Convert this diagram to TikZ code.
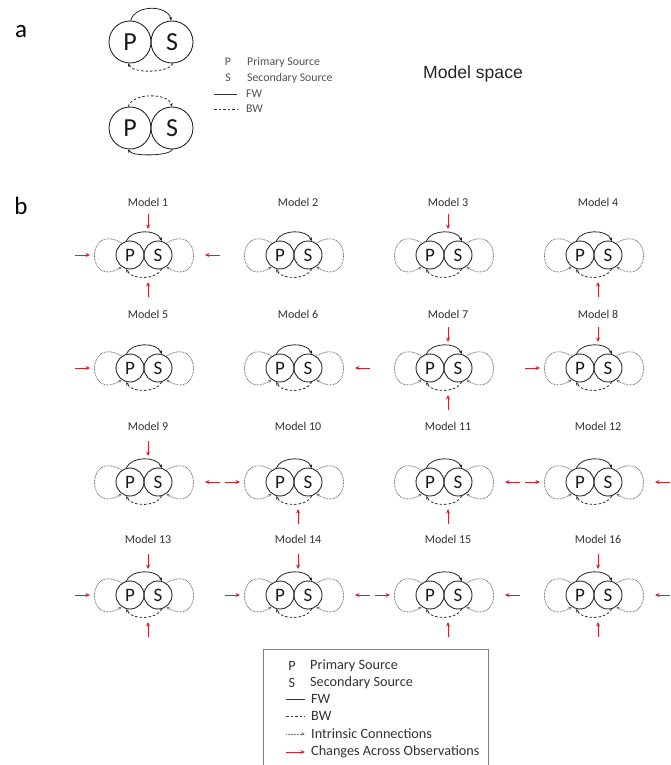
\documentclass[tikz,border=0pt]{standalone}
\usepackage{fontspec}
\setmainfont{Carlito}
\newfontfamily\arialf{Liberation Sans}
\usetikzlibrary{arrows.meta}
\definecolor{redarr}{RGB}{205,35,45}
\definecolor{txt}{RGB}{50,50,50}
\definecolor{lgtxt}{RGB}{80,80,80}
\tikzset{
  src/.style={circle, draw=black!85, line width=0.9pt, minimum size=28pt, inner sep=0pt,
    font=\fontsize{19}{19}\selectfont, text=black!90},
  bigsrc/.style={src, minimum size=42pt, font=\fontsize{26}{26}\selectfont},
  fwarc/.style={draw=black!85, line width=0.8pt, -{Stealth[length=3.5pt,width=3pt]}},
  bwarc/.style={fwarc, dash pattern=on 2.5pt off 2pt},
  loopc/.style={draw=black!55, dash pattern=on 0.8pt off 0.7pt, line width=0.8pt,
    -{Stealth[length=3.5pt,width=3pt]}},
  chg/.style={draw=redarr, line width=1pt, -{Stealth[length=4.5pt,width=4pt]}},
  mlabel/.style={font=\fontsize{12}{12}\selectfont, text=txt, inner sep=0pt},
  legtxt/.style={font=\fontsize{14.2}{15}\selectfont, text=txt, anchor=west, inner sep=0pt},
  legsym/.style={font=\fontsize{14.2}{15}\selectfont, text=txt, inner sep=0pt},
  atxt/.style={font=\fontsize{11.8}{12}\selectfont, text=lgtxt, anchor=west, inner sep=0pt},
  asym/.style={font=\fontsize{11.8}{12}\selectfont, text=lgtxt, inner sep=0pt},
  legline/.style={draw=black!80, line width=0.8pt},
  panel/.style={font=\fontsize{25}{25}\selectfont, text=black, inner sep=0pt},
}
% #1 number, #2 cx, #3 cy, #4 label y, #5 top, #6 bottom, #7 left, #8 right
\newcommand\mcell[8]{%
  \node[src] (P#1) at (#2-14,-#3) {P};
  \node[src] (S#1) at (#2+14,-#3) {S};
  \node[mlabel] (L#1) at (#2+4,-#4) {Model #1};
  \draw[fwarc] (P#1.105) .. controls +(5,12) and +(-5,12) .. (S#1.75);
  \draw[bwarc] (S#1.-75) .. controls +(-5,-11) and +(5,-11) .. (P#1.-105);
  \draw[loopc] (P#1.125) .. controls +(-36,22) and +(-36,-22) .. (P#1.235);
  \draw[loopc] (S#1.55) .. controls +(36,22) and +(36,-22) .. (S#1.-55);
  \ifnum#5=1
    \coordinate (Ta#1) at (#2+4,-#3+41); \coordinate (Tb#1) at (#2+4,-#3+26);
    \draw[chg] (Ta#1) -- (Tb#1);
  \fi
  \ifnum#6=1
    \coordinate (Ba#1) at (#2+4,-#3-42); \coordinate (Bb#1) at (#2+4,-#3-27);
    \draw[chg] (Ba#1) -- (Bb#1);
  \fi
  \ifnum#7=1
    \coordinate (La#1) at (#2-69,-#3); \coordinate (Lb#1) at (#2-54,-#3);
    \draw[chg] (La#1) -- (Lb#1);
  \fi
  \ifnum#8=1
    \coordinate (Ra#1) at (#2+76,-#3); \coordinate (Rb#1) at (#2+61,-#3);
    \draw[chg] (Ra#1) -- (Rb#1);
  \fi
}
\begin{document}
\begin{tikzpicture}[x=1pt,y=1pt]
\useasboundingbox (0,0) rectangle (670,-765);
% panel labels
\node[panel] (pa) at (21,-32) {a};
\node[panel] (pb) at (21,-206) {b};
\node[font=\arialf\fontsize{17.6}{18}\selectfont, text=black!85, inner sep=0pt] (ms) at (473,-74) {Model space};
% panel a diagrams
\node[bigsrc] (PA) at (130,-42) {P};
\node[bigsrc] (SA) at (172,-42) {S};
\draw[fwarc] (PA.88) .. controls +(4,16) and +(-4,16) .. (SA.92);
\draw[bwarc] (SA.-88) .. controls +(-4,-10) and +(4,-10) .. (PA.-95);
\node[bigsrc] (PB) at (130,-128) {P};
\node[bigsrc] (SB) at (172,-128) {S};
\draw[bwarc] (PB.95) .. controls +(4,14) and +(-4,14) .. (SB.90);
\draw[fwarc] (SB.-88) .. controls +(-4,-7) and +(4,-7) .. (PB.-95);
% panel a legend
\node[asym] (aP) at (228,-62) {P};
\node[atxt] (aPt) at (247,-62) {Primary Source};
\node[asym] (aS) at (228,-78) {S};
\node[atxt] (aSt) at (247,-78) {Secondary Source};
\coordinate (aF1) at (214,-94); \coordinate (aF2) at (237,-94);
\draw[legline] (aF1) -- (aF2);
\node[atxt] (aFt) at (246,-94) {FW};
\coordinate (aB1) at (214,-109); \coordinate (aB2) at (237,-109);
\draw[legline, dash pattern=on 2.5pt off 2pt] (aB1) -- (aB2);
\node[atxt] (aBt) at (246,-109) {BW};
% models
\mcell{1}{144}{255}{202}{1}{1}{1}{1}
\mcell{2}{294}{255}{202}{0}{0}{0}{0}
\mcell{3}{444}{255}{202}{1}{0}{0}{0}
\mcell{4}{594}{255}{202}{0}{1}{0}{0}
\mcell{5}{144}{368}{314}{0}{0}{1}{0}
\mcell{6}{294}{368}{314}{0}{0}{0}{1}
\mcell{7}{444}{368}{314}{1}{1}{0}{0}
\mcell{8}{594}{368}{314}{1}{0}{1}{0}
\mcell{9}{144}{482}{426}{1}{0}{0}{1}
\mcell{10}{294}{482}{426}{0}{1}{1}{0}
\mcell{11}{444}{482}{426}{0}{1}{0}{1}
\mcell{12}{594}{482}{426}{0}{0}{1}{1}
\mcell{13}{144}{595}{539}{1}{1}{1}{0}
\mcell{14}{294}{595}{539}{1}{0}{1}{1}
\mcell{15}{444}{595}{539}{0}{1}{1}{1}
\mcell{16}{594}{595}{539}{1}{1}{0}{1}
% legend b
\coordinate (bx1) at (263,-765); \coordinate (bx2) at (263,-649);
\coordinate (bx3) at (488,-649); \coordinate (bx4) at (488,-765);
\draw[draw=black!50, line width=0.8pt] (bx1) -- (bx2) -- (bx3) -- (bx4);
\node[legsym] (bP) at (292,-666) {P};
\node[legtxt] (bPt) at (310,-666) {Primary Source};
\node[legsym] (bS) at (292,-683) {S};
\node[legtxt] (bSt) at (310,-683) {Secondary Source};
\coordinate (bF1) at (286,-699); \coordinate (bF2) at (305,-699);
\draw[legline] (bF1) -- (bF2);
\node[legtxt] (bFt) at (311,-699) {FW};
\coordinate (bB1) at (286,-716); \coordinate (bB2) at (305,-716);
\draw[legline, dash pattern=on 2.5pt off 2pt] (bB1) -- (bB2);
\node[legtxt] (bBt) at (311,-716) {BW};
\coordinate (bI1) at (286,-734); \coordinate (bI2) at (305,-734);
\draw[loopc] (bI1) -- (bI2);
\node[legtxt] (bIt) at (311,-734) {Intrinsic Connections};
\coordinate (bC1) at (286,-752); \coordinate (bC2) at (305,-752);
\draw[chg] (bC1) -- (bC2);
\node[legtxt] (bCt) at (311,-752) {Changes Across Observations};
\end{tikzpicture}
\end{document}
